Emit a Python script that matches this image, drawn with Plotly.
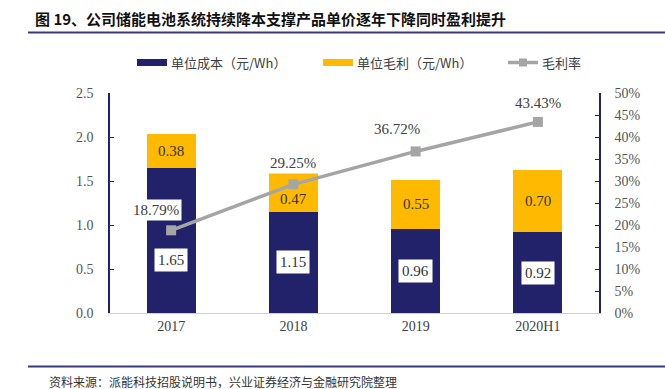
import plotly.graph_objects as go

categories = ["2017", "2018", "2019", "2020H1"]
unit_cost = [1.65, 1.15, 0.96, 0.92]
unit_margin = [0.38, 0.47, 0.55, 0.70]
gross_margin = [0.1879, 0.2925, 0.3672, 0.4343]
left_ticks = [0, 0.5, 1.0, 1.5, 2.0, 2.5]
right_ticks = [0, 0.05, 0.10, 0.15, 0.20, 0.25, 0.30, 0.35, 0.40, 0.45, 0.50]

NAVY = "#22226B"
GOLD = "#FFBA00"
GRAY = "#A5A5A5"
SERIF = "Liberation Serif, Noto Serif CJK SC, Noto Sans CJK SC"
CJK = "Noto Sans CJK SC"

W, H = 665, 389
L, R, T, B = 110, 66, 93, 76
PW, PH = W - L - R, H - T - B

def px(x):
    return (x - L) / PW

def py(y):
    return (H - B - y) / PH

xs = list(range(len(categories)))

fig = go.Figure()
fig.add_trace(go.Bar(x=xs, y=unit_cost, marker=dict(color=NAVY, line=dict(width=0)),
                     width=0.4, name="单位成本（元/Wh）", showlegend=False))
fig.add_trace(go.Bar(x=xs, y=unit_margin, marker=dict(color=GOLD, line=dict(width=0)),
                     width=0.4, name="单位毛利（元/Wh）", showlegend=False))
fig.add_trace(go.Scatter(x=xs, y=gross_margin, yaxis="y2", mode="lines+markers",
                         line=dict(color=GRAY, width=3.5),
                         marker=dict(symbol="square", size=10, color=GRAY),
                         name="毛利率", showlegend=False))

ann = []
cost_shift = [-20, 0, 0, 0]
margin_shift = [0, -8, 0, 0]
for i in xs:
    ann.append(dict(x=i, y=unit_cost[i] / 2, xref="x", yref="y", text=f"{unit_cost[i]:.2f}",
                    showarrow=False, bgcolor="white", borderpad=3, yshift=cost_shift[i],
                    font=dict(family=SERIF, size=15, color="#333333")))
    ann.append(dict(x=i, y=unit_cost[i] + unit_margin[i] / 2, xref="x", yref="y",
                    text=f"{unit_margin[i]:.2f}", showarrow=False, yshift=margin_shift[i],
                    font=dict(family=SERIF, size=15, color="#333333")))

pct_dx = [-15, 0, -19, 0]
pct_dy = [20, 21, 22, 19]
for i in xs:
    ann.append(dict(x=i, y=gross_margin[i], xref="x", yref="y2", text=f"{gross_margin[i]*100:.2f}%",
                    showarrow=False, bgcolor="white", borderpad=2, xshift=pct_dx[i], yshift=pct_dy[i],
                    font=dict(family=SERIF, size=15, color="#404040")))

# title, source
ann.append(dict(x=px(33), y=py(18), xref="paper", yref="paper", xanchor="left", yanchor="middle",
                text="<b>图 19、公司储能电池系统持续降本支撑产品单价逐年下降同时盈利提升</b>", showarrow=False,
                font=dict(family=CJK, size=15, color="#111111")))
ann.append(dict(x=px(47), y=py(381), xref="paper", yref="paper", xanchor="left", yanchor="middle",
                text="资料来源：派能科技招股说明书，兴业证券经济与金融研究院整理", showarrow=False,
                font=dict(family=CJK, size=12, color="#333333")))

# legend
legend_items = [("单位成本（元/Wh）", NAVY, 137, "bar"), ("单位毛利（元/Wh）", GOLD, 323, "bar"), ("毛利率", GRAY, 508, "line")]
shapes = []
for text, col, x0, kind in legend_items:
    if kind == "bar":
        shapes.append(dict(type="rect", xref="paper", yref="paper", x0=px(x0), x1=px(x0 + 30),
                           y0=py(66), y1=py(59), fillcolor=col, line=dict(width=0)))
    else:
        shapes.append(dict(type="line", xref="paper", yref="paper", x0=px(x0), x1=px(x0 + 30),
                           y0=py(62.5), y1=py(62.5), line=dict(color=col, width=3.5)))
        shapes.append(dict(type="rect", xref="paper", yref="paper", x0=px(x0 + 11), x1=px(x0 + 19),
                           y0=py(66.5), y1=py(58.5), fillcolor=col, line=dict(width=0)))
    ann.append(dict(x=px(x0 + 32), y=py(62.5), xref="paper", yref="paper", xanchor="left", yanchor="middle",
                    text=text, showarrow=False, font=dict(family=CJK, size=13, color="#404040")))

shapes.append(dict(type="line", xref="paper", yref="paper", x0=px(28), x1=px(665), y0=py(32.5), y1=py(32.5),
                   line=dict(color="#3A3A78", width=2)))
shapes.append(dict(type="line", xref="paper", yref="paper", x0=px(28), x1=px(665), y0=py(366.5), y1=py(366.5),
                   line=dict(color="#3A3A78", width=2)))

fig.update_layout(
    width=W, height=H, barmode="stack",
    margin=dict(l=L, r=R, t=T, b=B),
    paper_bgcolor="white", plot_bgcolor="white",
    showlegend=False,
    font=dict(family=SERIF, size=14, color="#404040"),
    xaxis=dict(range=[-0.5, 3.5], tickvals=xs, ticktext=categories, showgrid=False, zeroline=False,
               showline=True, linecolor="#D0D0D0", linewidth=1,
               ticks="", tickfont=dict(family=SERIF, size=14, color="#404040")),
    yaxis=dict(range=[0, 2.5], tickvals=left_ticks, ticktext=[f"{v:.1f}" for v in left_ticks],
               showgrid=False, showline=True, linecolor=NAVY, linewidth=1.5, zeroline=False,
               ticks="inside", ticklen=4, tickcolor=NAVY,
               tickfont=dict(family=SERIF, size=14, color="#555555"), ticklabelstandoff=12),
    yaxis2=dict(range=[0, 0.5], overlaying="y", side="right", tickvals=right_ticks,
                ticktext=[f"{round(v*100)}%" for v in right_ticks],
                showgrid=False, showline=True, linecolor=NAVY, linewidth=1.5, zeroline=False,
                ticks="inside", ticklen=4, tickcolor=NAVY,
                tickfont=dict(family=SERIF, size=14, color="#555555"), ticklabelstandoff=11),
    annotations=ann, shapes=shapes,
)

fig.write_html("out.html", config={"displayModeBar": False},
               post_script="document.body.style.margin='0';document.body.style.overflow='hidden';")
